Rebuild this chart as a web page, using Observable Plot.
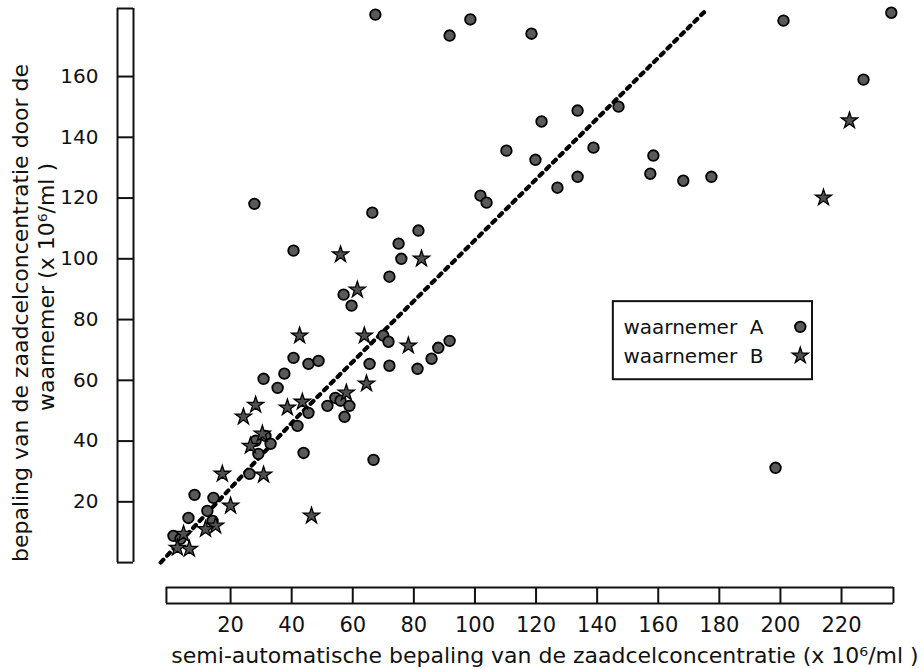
<!DOCTYPE html>
<html>
<head>
<meta charset="utf-8">
<script src="https://cdn.jsdelivr.net/npm/d3@7"></script>
<script src="https://cdn.jsdelivr.net/npm/@observablehq/plot@0.6"></script>
<style>
  body { margin: 0; background: #fff; }
  #chart svg { display: block; }
</style>
</head>
<body>
<div id="chart"></div>
<script>
// ---- data (semi-automatic value, observer value), x 10^6/ml ----
const waarnemerA = [
  [67.4,180.4],[98.5,178.8],[91.7,173.5],[118.5,174.1],[133.6,148.8],[121.8,145.2],
  [110.3,135.6],[119.8,132.6],[138.8,136.6],[147,150.1],[158.4,134],[157.4,128],
  [168.2,125.7],[177.4,127],[133.6,127],[127,123.4],[101.8,120.8],[103.8,118.5],
  [201,178.4],[236.3,181],[227.2,159],[198.4,31.2],[27.8,118.1],[40.6,102.7],
  [75,105],[75.9,100],[72,94.1],[66.4,115.2],[81.5,109.3],[57,88.2],[59.6,84.6],
  [70,74.7],[71.7,72.7],[91.7,73],[88,70.7],[85.8,67.1],[81.2,63.8],[72,64.8],
  [65.5,65.4],[40.6,67.4],[45.5,65.4],[48.8,66.4],[37.6,62.2],[30.8,60.5],[35.4,57.5],
  [45.5,49.3],[51.7,51.6],[54.3,54.2],[56,53.3],[58.9,51.6],[57.3,48],[41.9,45],
  [43.9,36.1],[66.8,33.8],[26.2,29.2],[8.2,22.3],[6.2,14.7],[28.2,40.1],[31.4,41.7],
  [33.1,39.1],[29.1,35.8],[14.4,21.3],[12.4,17],[14.1,13.7],[1.3,8.8],[3.6,7.8]
];
const waarnemerB = [
  [56,101.4],[82.5,100],[61.5,89.8],[42.6,74.7],[63.8,74.7],[78.2,71.4],[64.5,58.9],
  [57.9,55.9],[43.5,52.9],[38.6,51],[28.2,51.9],[24.2,48],[17.3,29.2],[30.8,28.9],
  [20,18.7],[15.1,12.1],[46.5,15.4],[6.5,4.5],[2.6,4.8],[4.6,9.4],[11.8,11],
  [30.4,42.4],[222.6,145.5],[214.1,120.1],[26.5,38.4]
];
const fitLine = [[-2.9,0],[42.2,48.3],[175.8,182]];

const xTickLabels = [20,40,60,80,100,120,140,160,180,200,220];
const yTickLabels = [20,40,60,80,100,120,140,160];
const legendLabels = ["waarnemer\u00a0\u00a0A", "waarnemer\u00a0\u00a0B"];
const legendSymbols = ["circle", "star"];
const xTitle = "semi-automatische bepaling van de zaadcelconcentratie (x 10\u2076/ml )";
const yTitle1 = "bepaling van de zaadcelconcentratie door de";
const yTitle2 = "waarnemer (x 10\u2076/ml )";

// ---- layout / scale configuration ----
const xDomain = [-11.78, 245.2];
const yDomain = [-8.2, 182.4];
const xBar = [-1, 237];
const yBar = [0, yDomain[1]];
const legendBox = {x1: 145.3, x2: 210.5, y1: 60.2, y2: 85.9, textX: 148.6, symbolX: 206.5,
                   textY: [75.3, 65.8], symbolY: [77.6, 68.1]};

const legendRows = legendLabels.map((label, i) => ({
  label, symbol: legendSymbols[i],
  tx: legendBox.textX, ty: legendBox.textY[i],
  sx: legendBox.symbolX, sy: legendBox.symbolY[i]
}));

const ink = "#111";
const circleStyle = {r: 5.3, fill: "#5a5a5a", stroke: "#000", strokeWidth: 1.8};
const starStyle = {symbol: "star", r: 5.1, fill: "#505050", stroke: "#000", strokeWidth: 1.3};

const chart = Plot.plot({
  width: 924,
  height: 669,
  marginLeft: 133,
  marginRight: 6,
  marginTop: 8,
  marginBottom: 82,
  x: {domain: xDomain},
  y: {domain: yDomain},
  style: {fontFamily: "DejaVu Sans, sans-serif", fontSize: "20px", color: ink, background: "#fff"},
  marks: [
    // y axis bar
    Plot.axisY([yBar[0], ...yTickLabels, yBar[1]], {
      tickSize: 16, tickPadding: 19, strokeWidth: 2, fontSize: 20, label: null,
      tickFormat: d => yTickLabels.includes(d) ? String(d) : ""
    }),
    Plot.ruleX([xDomain[0]], {y1: yBar[0], y2: yBar[1], stroke: ink, strokeWidth: 2}),
    Plot.ruleX([xDomain[0]], {y1: yBar[0], y2: yBar[1], dx: -16, stroke: ink, strokeWidth: 2}),
    // x axis bar
    Plot.axisX([xBar[0], ...xTickLabels, xBar[1]], {
      tickSize: 16, tickPadding: 14, strokeWidth: 2, fontSize: 21, label: null,
      tickFormat: d => xTickLabels.includes(d) ? String(d) : ""
    }),
    Plot.ruleY([yDomain[0]], {x1: xBar[0], x2: xBar[1], stroke: ink, strokeWidth: 2}),
    Plot.ruleY([yDomain[0]], {x1: xBar[0], x2: xBar[1], dy: 16, stroke: ink, strokeWidth: 2}),
    // titles
    Plot.text([yTitle1], {text: d => d, frameAnchor: "left", textAnchor: "middle", rotate: -90,
      lineAnchor: "bottom", dx: -106, dy: 15, fontSize: 22}),
    Plot.text([yTitle2], {text: d => d, frameAnchor: "left", textAnchor: "middle", rotate: -90,
      lineAnchor: "bottom", dx: -80, dy: -11, fontSize: 22}),
    Plot.text([xTitle], {text: d => d, frameAnchor: "bottom", textAnchor: "middle",
      lineAnchor: "bottom", dx: 19, dy: 75, fontSize: 22}),
    // dotted reference line
    Plot.line(fitLine, {x: d => d[0], y: d => d[1], stroke: "#000", strokeWidth: 4.2,
      strokeDasharray: "4 5.5"}),
    // observations
    Plot.dot(waarnemerA, {x: d => d[0], y: d => d[1], ...circleStyle}),
    Plot.dot(waarnemerB, {x: d => d[0], y: d => d[1], ...starStyle}),
    // legend
    Plot.rect([legendBox], {x1: "x1", x2: "x2", y1: "y1", y2: "y2", fill: "#fff",
      stroke: ink, strokeWidth: 2}),
    Plot.text(legendRows, {x: "tx", y: "ty", text: "label", textAnchor: "start",
      lineAnchor: "bottom", fontSize: 20}),
    Plot.dot(legendRows.filter(d => d.symbol === "circle"), {x: "sx", y: "sy", ...circleStyle}),
    Plot.dot(legendRows.filter(d => d.symbol === "star"), {x: "sx", y: "sy", ...starStyle})
  ]
});
document.getElementById("chart").appendChild(chart);
</script>
</body>
</html>
